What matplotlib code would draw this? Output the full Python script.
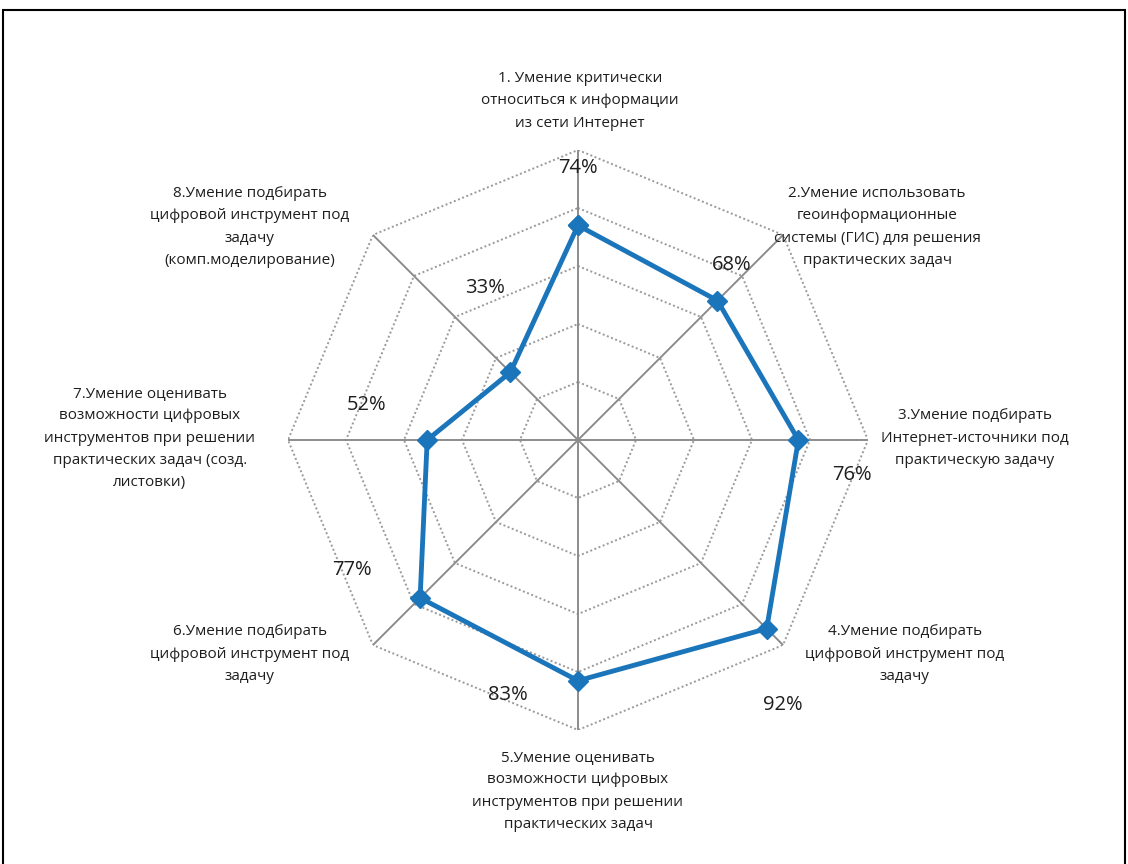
import numpy as np
import matplotlib
matplotlib.use("Agg")
import matplotlib.pyplot as plt
from matplotlib.patches import Rectangle

plt.rcParams['font.family'] = ['Open Sans', 'DejaVu Sans']

categories = [
    "1. Умение критически\nотноситься к информации\nиз сети Интернет",
    "2.Умение использовать\nгеоинформационные\nсистемы (ГИС) для решения\nпрактических задач",
    "3.Умение подбирать\nИнтернет-источники под\nпрактическую задачу",
    "4.Умение подбирать\nцифровой инструмент под\nзадачу",
    "5.Умение оценивать\nвозможности цифровых\nинструментов при решении\nпрактических задач",
    "6.Умение подбирать\nцифровой инструмент под\nзадачу",
    "7.Умение оценивать\nвозможности цифровых\nинструментов при решении\nпрактических задач (созд.\nлистовки)",
    "8.Умение подбирать\nцифровой инструмент под\nзадачу\n(комп.моделирование)",
]
values = [74, 68, 76, 92, 83, 77, 52, 33]
value_labels = ["74%", "68%", "76%", "92%", "83%", "77%", "52%", "33%"]
grid_levels = [20, 40, 60, 80, 100]

W, H = 1128, 864
fig = plt.figure(figsize=(W / 100, H / 100), dpi=100)
fig.patch.set_facecolor('white')

cx, cy, R = 578, 440, 290
ax = fig.add_axes([(cx - R) / W, (H - cy - R) / H, 2 * R / W, 2 * R / H], projection='polar')
ax.set_theta_zero_location('N')
ax.set_theta_direction(-1)
ax.set_ylim(0, 100)
ax.axis('off')

n = len(categories)
angles = np.arange(n) * 2 * np.pi / n
closed = np.append(angles, angles[0])

# octagonal grid
for lv in grid_levels:
    ax.plot(closed, [lv] * (n + 1), color='#9a9a9a', lw=1.4, ls=(0, (1, 1.3)), zorder=1)
for a in angles:
    ax.plot([a, a], [0, 100], color='#8c8c8c', lw=1.4, zorder=1)

vals = np.array(values, dtype=float)
ax.plot(closed, np.append(vals, vals[0]), color='#1b75bb', lw=3.5, marker='D',
        markersize=10, markerfacecolor='#1b75bb', markeredgecolor='#1b75bb', zorder=3, clip_on=False)

# category labels (pixel positions)
cat_pos = [(580, 101), (877, 227), (975, 438), (905, 654), (578, 791), (250, 654), (150, 438), (250, 227)]
for txt, (x, y) in zip(categories, cat_pos):
    fig.text(x / W, 1 - y / H, txt, ha='center', va='center', fontsize=11,
             color='#1e1e1e', linespacing=1.65)

val_pos = [(578, 168), (732, 265), (852, 475), (783, 705), (508, 695), (352, 570), (367, 405), (485, 288)]
for txt, (x, y) in zip(value_labels, val_pos):
    fig.text(x / W, 1 - y / H, txt, ha='center', va='center', fontsize=14.5,
             color='#1e1e1e', fontstretch='normal')

# frame border
fig.patches.append(Rectangle((3 / W, -0.05), (1125 - 3) / W, 1.05 - 10 / H,
                             transform=fig.transFigure, fill=False, edgecolor='black', lw=1.5))

fig.savefig('out.png', dpi=100, facecolor='white')
